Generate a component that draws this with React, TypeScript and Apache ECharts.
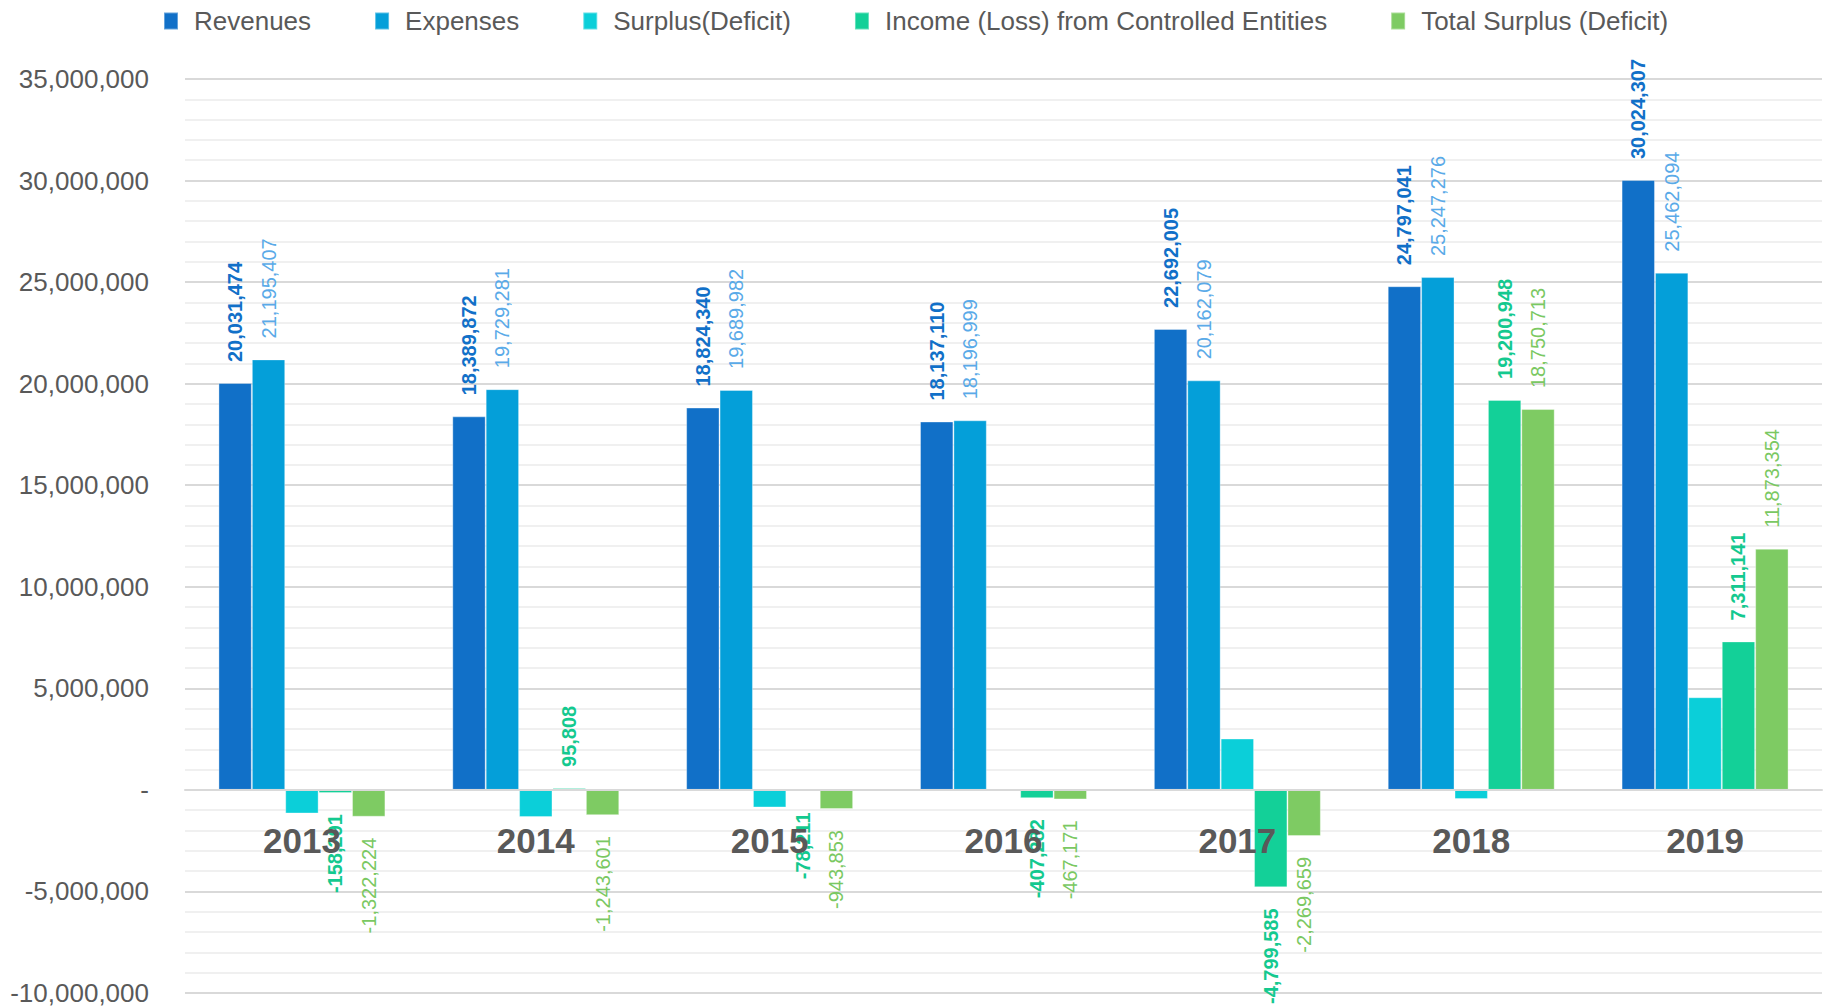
import React, { useEffect, useRef } from "react";
import * as echarts from "echarts";

const categories = ["2013", "2014", "2015", "2016", "2017", "2018", "2019"];
const revenues = [20031474, 18389872, 18824340, 18137110, 22692005, 24797041, 30024307];
const expenses = [21195407, 19729281, 19689982, 18196999, 20162079, 25247276, 25462094];
const surplus = [-1163933, -1339409, -865642, -59889, 2529926, -450235, 4562213];
const income = [-158291, 95808, -78211, -407282, -4799585, 19200948, 7311141];
const total = [-1322224, -1243601, -943853, -467171, -2269659, 18750713, 11873354];

const seriesNames = [
  "Revenues",
  "Expenses",
  "Surplus(Deficit)",
  "Income (Loss) from Controlled Entities",
  "Total Surplus (Deficit)",
];
const barColors = ["#1170c8", "#049fd9", "#0bcfd9", "#13d098", "#7ecb63"];
const labelColors = ["#1170c8", "#5aaae8", null, "#14c98f", "#7ac862"];
const labelBold = [true, false, false, true, false];

const Y_MIN = -10000000;
const Y_MAX = 35000000;
const Y_INTERVAL = 5000000;

const FONT = "'Liberation Sans', Arial, sans-serif";
const W = 1824;
const H = 1008;
const GRID_TOP = 79;
const GRID_BOTTOM = 15;

const fmt = (v: number) => v.toLocaleString("en-US");

export default function App() {
  const ref = useRef<HTMLDivElement>(null);
  useEffect(() => {
    if (!ref.current) return;
    const chart = echarts.init(ref.current, null, { renderer: "svg" });
    const allData = [revenues, expenses, surplus, income, total];
    const series = allData.map((arr, i) => ({
      name: seriesNames[i],
      type: "bar",
      z: 2,
      barGap: "0%",
      barCategoryGap: "28.6%",
      itemStyle: { color: barColors[i], borderColor: "rgba(255,255,255,0.35)", borderWidth: 1 },
      label: {
        show: labelColors[i] !== null,
        rotate: 90,
        distance: 21,
        verticalAlign: "middle",
        color: labelColors[i] || "#000",
        fontFamily: FONT,
        fontSize: 20,
        fontWeight: labelBold[i] ? "bold" : "normal",
        formatter: (p: any) => fmt(p.value),
      },
      data: arr.map((v) => ({
        value: v,
        label: v < 0 ? { position: "bottom", align: "right" } : { position: "top", align: "left" },
      })),
    }));

    const gridH = H - GRID_TOP - GRID_BOTTOM;
    const zeroOffset = -(gridH * (0 - Y_MIN)) / (Y_MAX - Y_MIN);

    chart.setOption({
      animation: false,
      backgroundColor: "#ffffff",
      legend: {
        data: seriesNames,
        left: 163,
        top: 8,
        padding: 0,
        icon: "rect",
        itemWidth: 14,
        itemHeight: 17,
        itemGap: 63,
        textStyle: {
          fontFamily: FONT,
          fontSize: 26,
          color: "#595959",
          padding: [0, 0, 0, 11],
        },
      },
      grid: {
        left: 185,
        right: 2,
        top: GRID_TOP,
        bottom: GRID_BOTTOM,
        containLabel: false,
        outerBoundsMode: "none",
      },
      xAxis: {
        type: "category",
        data: categories,
        z: 10,
        offset: zeroOffset,
        axisLine: { onZero: false, lineStyle: { color: "#d9d9d9", width: 2 } },
        axisTick: { show: false },
        axisLabel: {
          margin: 33,
          fontFamily: FONT,
          fontSize: 35,
          fontWeight: "bold",
          color: "#595959",
        },
      },
      yAxis: {
        type: "value",
        min: Y_MIN,
        max: Y_MAX,
        interval: Y_INTERVAL,
        z: 0,
        axisLine: { show: false },
        axisTick: { show: false },
        axisLabel: {
          margin: 36,
          fontFamily: FONT,
          fontSize: 26,
          color: "#595959",
          formatter: (v: number) => (v === 0 ? "-" : fmt(v)),
        },
        splitLine: { show: true, lineStyle: { color: "#d9d9d9", width: 2 } },
        minorTick: { show: false, splitNumber: 5 },
        minorSplitLine: { show: true, lineStyle: { color: "#f0f0f0", width: 2 } },
      },
      series,
    });
    return () => chart.dispose();
  }, []);
  return (
    <div
      ref={ref}
      style={{ position: "fixed", left: 0, top: 0, width: W, height: H, background: "#fff" }}
    />
  );
}
